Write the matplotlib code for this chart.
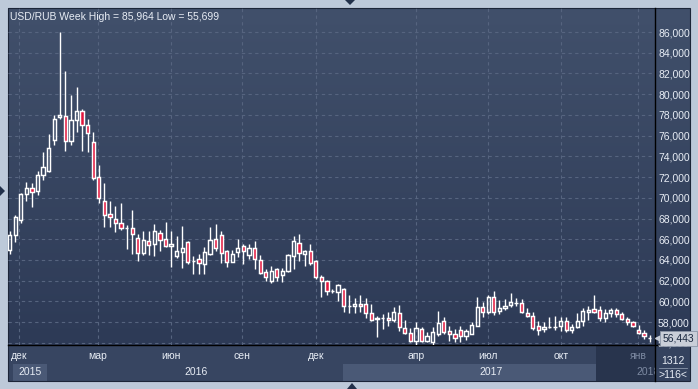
import numpy as np
import matplotlib.pyplot as plt
from matplotlib.patches import Rectangle, Polygon
from matplotlib.colors import LinearSegmentedColormap
from matplotlib.transforms import blended_transform_factory

plt.rcParams['font.family'] = ['Liberation Sans', 'DejaVu Sans']

# USD/RUB weekly candles
opens = [65.0, 66.4, 67.85, 70.35, 70.95, 70.7, 72.2, 72.55, 75.55, 77.8,
         77.9, 75.45, 77.5, 78.35, 77.0, 75.4, 72.05, 69.65, 68.4, 67.95,
         67.6, 67.07, 67.05, 66.15, 64.7, 65.85, 65.5, 66.6, 66.0, 65.35,
         64.35, 64.75, 65.7, 63.88, 64.05, 63.6, 64.55, 66.0, 66.4, 64.9,
         63.85, 64.8, 65.35, 64.5, 65.15, 63.95, 62.8, 61.95, 63.1, 62.55,
         62.9, 64.35, 65.6, 64.6, 64.85, 63.9, 62.35, 61.95, 61.05, 60.9,
         61.15, 59.55, 59.55, 59.7, 59.75, 58.85, 58.35, 58.4, 58.4, 58.2,
         58.9, 57.45, 56.95, 56.2, 57.35, 56.2, 56.05, 56.85, 58.15, 57.15,
         56.85, 57.25, 56.65, 56.9, 57.65, 59.5, 58.95, 60.45, 59.05, 59.35,
         59.65, 59.8, 59.85, 58.9, 58.6, 57.6, 57.35, 57.55, 57.55, 57.6,
         58.15, 57.25, 57.55, 58.15, 59.0, 59.25, 59.15, 58.4, 58.85, 59.15,
         58.8, 58.3, 58.0, 57.25, 56.95, 56.5]
highs = [66.8, 68.35, 70.5, 71.55, 71.45, 72.55, 74.4, 76.2, 77.95, 85.964,
         82.25, 79.95, 80.7, 78.6, 77.6, 76.35, 73.2, 71.45, 69.7, 69.2,
         69.5, 67.4, 68.8, 66.5, 66.8, 66.8, 67.45, 66.85, 67.7, 66.8,
         66.35, 67.3, 65.8, 64.4, 64.55, 65.25, 67.2, 67.45, 66.8, 64.95,
         64.95, 66.0, 65.5, 65.5, 65.85, 64.45, 63.1, 63.45, 63.25, 63.25,
         64.6, 66.35, 66.5, 64.95, 65.55, 63.95, 62.55, 62.05, 61.15, 61.65,
         61.3, 60.65, 60.3, 60.6, 60.35, 59.7, 58.6, 58.78, 59.0, 59.5,
         59.65, 58.2, 57.4, 58.0, 57.5, 57.0, 57.5, 59.1, 58.45, 57.65,
         57.35, 57.65, 57.35, 58.0, 60.4, 59.9, 60.6, 61.0, 60.15, 60.25,
         60.8, 60.35, 60.25, 59.35, 58.95, 58.15, 58.05, 58.45, 58.6, 58.45,
         58.5, 57.8, 58.85, 59.35, 59.6, 60.65, 59.6, 59.25, 59.35, 59.35,
         58.95, 58.45, 58.15, 57.7, 57.25, 56.75]
lows = [64.6, 65.7, 67.6, 69.65, 69.15, 70.3, 71.7, 72.5, 75.1, 77.6,
        74.55, 75.1, 76.35, 74.55, 74.45, 71.75, 69.45, 67.2, 67.15, 66.65,
        66.85, 65.1, 64.6, 63.9, 64.45, 64.5, 64.4, 64.9, 65.25, 63.35,
        64.15, 63.25, 63.6, 62.65, 62.65, 62.65, 64.5, 64.9, 63.75, 63.35,
        63.8, 64.3, 63.6, 64.05, 63.1, 62.6, 61.95, 61.8, 61.95, 61.9,
        62.85, 63.15, 63.9, 63.45, 63.5, 62.2, 60.45, 60.65, 60.8, 60.0,
        59.0, 58.9, 58.9, 58.95, 58.4, 58.1, 56.6, 57.35, 57.6, 58.0,
        57.15, 56.85, 56.05, 55.75, 56.05, 56.05, 55.699, 56.7, 56.85, 56.2,
        56.05, 56.05, 56.3, 56.85, 57.6, 58.5, 58.8, 58.7, 58.8, 59.15,
        59.45, 59.6, 58.85, 58.45, 57.25, 56.8, 57.0, 57.45, 57.25, 57.15,
        57.0, 56.95, 57.4, 57.6, 58.2, 58.85, 58.15, 58.0, 58.45, 58.45,
        58.25, 57.75, 57.5, 56.85, 56.35, 56.1]
closes = [66.4, 68.15, 70.35, 70.95, 70.6, 72.2, 73.0, 74.8, 77.6, 78.0,
          75.45, 77.5, 78.35, 77.0, 76.25, 71.9, 69.95, 68.3, 68.15, 67.6,
          67.05, 67.05, 66.5, 64.7, 65.9, 65.45, 66.8, 65.9, 65.3, 65.5,
          64.9, 65.15, 63.8, 63.88, 63.7, 64.8, 65.9, 65.2, 64.7, 63.85,
          64.55, 65.15, 64.9, 65.2, 64.05, 62.75, 62.35, 62.9, 62.35, 62.9,
          64.45, 65.8, 64.7, 64.85, 63.7, 62.35, 62.0, 61.0, 61.0, 61.55,
          59.6, 59.55, 59.75, 59.55, 58.9, 58.25, 58.3, 58.4, 58.25, 58.95,
          57.5, 56.95, 56.2, 57.4, 56.15, 56.7, 57.0, 57.9, 57.0, 56.85,
          56.45, 56.65, 57.1, 57.75, 59.45, 58.95, 60.45, 58.95, 59.35, 59.6,
          59.95, 59.82, 58.95, 58.55, 57.45, 57.25, 57.55, 57.57, 57.57, 58.15,
          57.25, 57.55, 58.15, 59.05, 59.2, 58.95, 58.4, 58.85, 59.15, 58.8,
          58.3, 58.0, 57.6, 56.95, 56.65, 56.443]

price_ticks = [56, 58, 60, 62, 64, 66, 68, 70, 72, 74, 76, 78, 80, 82, 84, 86]
month_labels = ['дек', 'мар', 'июн', 'сен', 'дек', 'апр', 'июл', 'окт', 'янв']
# bar index where each month starts
month_pos = [1.7, 15.8, 29.0, 41.7, 55.0, 73.0, 85.9, 99.1, 112.9]
year_labels = ['2015', '2016', '2017', '2018']
title = 'USD/RUB Week High = 85,964 Low = 55,699'
last_price = closes[-1]

W, H = 698, 389
TXT = '#e8edf5'
DIM = '#7d8aa2'
RED = '#e3173e'
FS = 7.5

fig = plt.figure(figsize=(W / 100, H / 100), dpi=100)
fig.patch.set_facecolor('#bdc9d9')

# frame / panels drawn in pixel coordinates
frame = fig.add_axes([0, 0, 1, 1])
frame.set_xlim(0, W)
frame.set_ylim(H, 0)
frame.axis('off')

grad = np.linspace(0, 1, 256).reshape(-1, 1)
cmap = LinearSegmentedColormap.from_list('bg', ['#41506b', '#2d3a56'])
frame.imshow(grad, cmap=cmap, extent=(8, 690, 345, 8), aspect='auto', zorder=0)

frame.add_patch(Rectangle((8, 345), 647, 36, fc='#374561', ec='none', zorder=1))
frame.add_patch(Rectangle((13, 364), 34, 17, fc='#4a5976', ec='none', zorder=1))
frame.add_patch(Rectangle((343, 364), 253, 17, fc='#4a5976', ec='none', zorder=1))
frame.add_patch(Rectangle((596, 345), 59, 36, fc='#28344d', ec='none', zorder=1))

year_x = [30, 196, 491, 648]
for lbl, x in zip(year_labels, year_x):
    frame.text(x, 372, lbl, ha='center', va='center', fontsize=FS,
               color=DIM if lbl == '2018' else TXT, zorder=2)

frame.add_patch(Rectangle((655, 345), 35, 36, fc='#34425e', ec='none', zorder=3))
frame.text(673, 361, '1312', ha='center', va='center', fontsize=FS, color=TXT, zorder=4)
frame.plot([659, 687], [367.5, 367.5], color='#8a96aa', lw=0.6, zorder=4)
frame.text(673, 375, '>116<', ha='center', va='center', fontsize=FS, color=TXT, zorder=4)

frame.add_patch(Rectangle((8, 8), 682, 373, fc='none', ec='#1c2538', lw=0.8, zorder=5))
frame.plot([655, 655], [8, 381], color='black', lw=1, zorder=5)
frame.plot([8, 690], [345, 345], color='black', lw=1, zorder=5)

for pts in ([(345, 0), (355, 0), (350, 5)],
            [(0, 186), (0, 196), (5, 191)],
            [(347, 389), (357, 389), (352, 383)]):
    frame.add_patch(Polygon(pts, closed=True, fc='#22304a', ec='none', zorder=5))

# candle chart
ax = fig.add_axes([8 / W, 1 - 345 / H, 647 / W, 337 / H])
ax.set_facecolor('none')
for s in ax.spines.values():
    s.set_visible(False)

bw = 0.58
for i, (o, h, l, c) in enumerate(zip(opens, highs, lows, closes)):
    top, bot = max(o, c), min(o, c)
    ax.vlines(i, top, h, color='white', lw=1, zorder=3)
    ax.vlines(i, l, bot, color='white', lw=1, zorder=3)
    ax.add_patch(Rectangle((i - bw / 2, bot), bw, top - bot,
                           fc=RED if c < o else 'none', ec='white', lw=1.05, zorder=4))

ax.set_xlim(-0.31, 115.96)
ax.set_ylim(55.79, 88.32)

ax.set_yticks(price_ticks)
ax.set_yticklabels([f'{v:.3f}'.replace('.', ',') for v in price_ticks])
ax.yaxis.tick_right()
ax.set_xticks(month_pos)
ax.set_xticklabels(month_labels)
ax.tick_params(axis='both', length=0, labelsize=FS, labelcolor=TXT)
ax.tick_params(axis='y', pad=2.2)
ax.tick_params(axis='x', pad=4.5)
ax.get_xticklabels()[-1].set_color(DIM)
ax.grid(True, color='#56647f', lw=0.8, ls=(0, (3, 3)))
ax.set_axisbelow(True)

ax.text(0.003, 0.988, title, transform=ax.transAxes, ha='left', va='top',
        fontsize=FS, color=TXT)

# current price marker on the right scale
tr = blended_transform_factory(ax.transAxes, ax.transData)
ax.plot([1.005], [last_price], marker='<', ms=5, color='#c9ced8', transform=tr,
        clip_on=False, zorder=9)
ax.text(1.012, last_price, f'{last_price:.3f}'.replace('.', ','), transform=tr,
        ha='left', va='center', fontsize=FS, color='#1a2840', clip_on=False, zorder=10,
        bbox=dict(boxstyle='square,pad=0.22', fc='#c9ced8', ec='#8c96a8', lw=0.6))

fig.savefig('out.png', dpi=100, facecolor=fig.get_facecolor())
